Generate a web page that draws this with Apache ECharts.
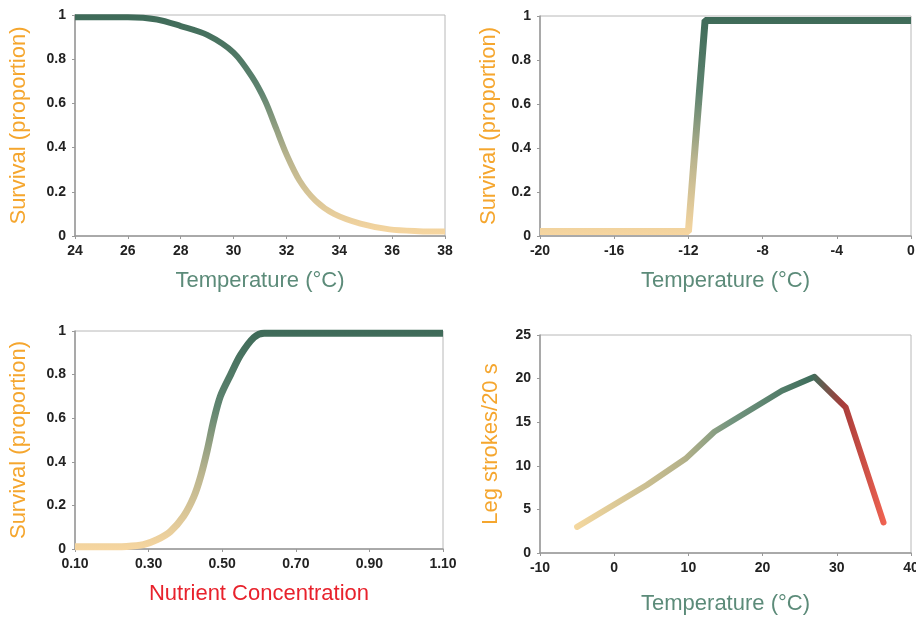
<!DOCTYPE html>
<html>
<head>
<meta charset="utf-8">
<script src="https://cdn.jsdelivr.net/npm/echarts@6/dist/echarts.min.js"></script>
<style>
  html, body { margin: 0; padding: 0; background: #fff; }
  #chart { width: 916px; height: 617px; }
</style>
</head>
<body>
<div id="chart"></div>
<script>
// panel 1: heat survival
const heatTemp = [24, 25, 26, 27.1, 28, 29, 30, 30.7, 31.2, 31.6, 32, 32.5, 33.1, 33.8, 34.8, 35.9, 37, 38];
const heatSurv = [0.99, 0.99, 0.99, 0.98, 0.95, 0.91, 0.83, 0.72, 0.61, 0.49, 0.37, 0.25, 0.16, 0.10, 0.056, 0.03, 0.022, 0.02];
// panel 2: cold survival
const coldTemp = [-20, -12, -11.1, 0];
const coldSurv = [0.02, 0.02, 0.98, 0.98];
// panel 3: nutrient survival
const nutrConc = [0.1, 0.17, 0.24, 0.286, 0.323, 0.359, 0.395, 0.423, 0.441, 0.459, 0.477, 0.495, 0.523, 0.55, 0.586, 0.614, 0.7, 0.9, 1.1];
const nutrSurv = [0.01, 0.01, 0.012, 0.02, 0.043, 0.08, 0.15, 0.24, 0.33, 0.45, 0.59, 0.70, 0.80, 0.89, 0.97, 0.99, 0.99, 0.99, 0.99];
// panel 4: leg strokes
const legTemp = [-5, 4.4, 9.6, 13.5, 22.6, 27, 31.2, 36.3];
const legStrokes = [3, 7.8, 10.8, 13.9, 18.6, 20.2, 16.7, 3.5];

const nutrTicks = [0.1, 0.3, 0.5, 0.7, 0.9, 1.1];

const FONT = 'Liberation Sans';
const orange = '#f5a62e';
const sage = '#5c8b79';

const vGrad = {
  type: 'linear', x: 0, y: 0, x2: 0, y2: 1,
  colorStops: [
    { offset: 0, color: '#3e6a58' },
    { offset: 0.35, color: '#5f8470' },
    { offset: 0.65, color: '#b9b48e' },
    { offset: 1, color: '#f7d6a0' }
  ]
};
const hGrad = {
  type: 'linear', x: 0, y: 0, x2: 1, y2: 0,
  colorStops: [
    { offset: 0, color: '#f5d89f' },
    { offset: 0.35, color: '#b4b189' },
    { offset: 0.5, color: '#74957f' },
    { offset: 0.76, color: '#3f6e5c' },
    { offset: 0.86, color: '#a83c3a' },
    { offset: 1, color: '#f26452' }
  ]
};

const grids = [
  { left: 75, top: 15, width: 370, height: 221 },
  { left: 540, top: 16, width: 371, height: 220 },
  { left: 75, top: 331, width: 368, height: 218 },
  { left: 540, top: 335, width: 371, height: 218 }
].map(g => Object.assign({ show: true, borderColor: '#b8b8b8', borderWidth: 1, outerBoundsMode: 'none', containLabel: false }, g));

const tickLabel = { fontFamily: FONT, fontSize: 14, fontWeight: 'bold', color: '#222' };

function xAx(i, min, max, interval, name, nameColor, gap, extra) {
  return Object.assign({
    type: 'value', gridIndex: i, min, max, interval,
    name, nameLocation: 'middle', nameGap: gap,
    nameTextStyle: { fontFamily: FONT, fontSize: 22, color: nameColor },
    axisLine: { show: true, onZero: false, lineStyle: { color: '#999', width: 1.5 } },
    axisTick: { show: true, length: 3, lineStyle: { color: '#999' } },
    axisLabel: Object.assign({ margin: 8 }, tickLabel),
    splitLine: { show: false }
  }, extra || {});
}
function yAx(i, min, max, interval, name, gap) {
  return {
    type: 'value', gridIndex: i, min, max, interval,
    name, nameLocation: 'middle', nameGap: gap,
    nameTextStyle: { fontFamily: FONT, fontSize: 22, color: orange },
    axisLine: { show: true, onZero: false, lineStyle: { color: '#999', width: 1.5 } },
    axisTick: { show: true, length: 3, lineStyle: { color: '#999' } },
    axisLabel: Object.assign({ margin: 9 }, tickLabel),
    splitLine: { show: false }
  };
}

const zip = (a, b) => a.map((v, i) => [v, b[i]]);

const option = {
  animation: false,
  grid: grids,
  xAxis: [
    xAx(0, 24, 38, 2, 'Temperature (°C)', sage, 34),
    xAx(1, -20, 0, 4, 'Temperature (°C)', sage, 34),
    xAx(2, 0.1, 1.1, null, 'Nutrient Concentration', '#e8222c', 34, {
      axisTick: { show: true, length: 3, lineStyle: { color: '#999' }, customValues: nutrTicks },
      axisLabel: Object.assign({ margin: 8, customValues: nutrTicks, formatter: v => v.toFixed(2) }, tickLabel)
    }),
    xAx(3, -10, 40, 10, 'Temperature (°C)', sage, 40)
  ],
  yAxis: [
    yAx(0, 0, 1, 0.2, 'Survival (proportion)', 45),
    yAx(1, 0, 1, 0.2, 'Survival (proportion)', 40),
    yAx(2, 0, 1, 0.2, 'Survival (proportion)', 45),
    yAx(3, 0, 25, 5, 'Leg strokes/20 s', 38)
  ],
  series: [
    { type: 'line', xAxisIndex: 0, yAxisIndex: 0, data: zip(heatTemp, heatSurv),
      smooth: 0.3, showSymbol: false, lineStyle: { width: 6, color: vGrad } },
    { type: 'line', xAxisIndex: 1, yAxisIndex: 1, data: zip(coldTemp, coldSurv),
      showSymbol: false, lineStyle: { width: 7, color: vGrad } },
    { type: 'line', xAxisIndex: 2, yAxisIndex: 2, data: zip(nutrConc, nutrSurv),
      smooth: 0.3, showSymbol: false, lineStyle: { width: 7, color: vGrad } },
    { type: 'line', xAxisIndex: 3, yAxisIndex: 3, data: zip(legTemp, legStrokes),
      showSymbol: false, lineStyle: { width: 6, color: hGrad, join: 'round', cap: 'round' } }
  ]
};

echarts.init(document.getElementById('chart'), null, { renderer: 'canvas' }).setOption(option);
</script>
</body>
</html>
